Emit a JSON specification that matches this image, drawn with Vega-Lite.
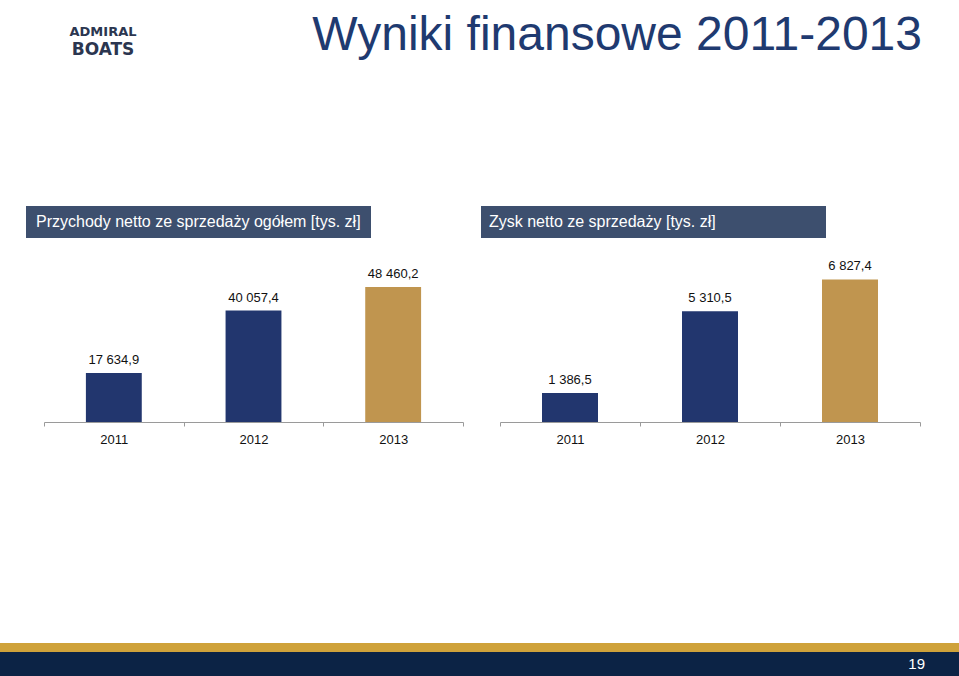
{
  "$schema": "https://vega.github.io/schema/vega-lite/v6.json",
  "padding": {"left": 0, "right": 0, "top": 12, "bottom": 0},
  "background": "white",
  "config": {
    "font": "Liberation Sans",
    "view": {"stroke": null},
    "locale": {"number": {"decimal": ",", "thousands": " ", "grouping": [3], "currency": ["", " zł"]}}
  },
  "datasets": {
    "revenue": [{"year": 2011, "value": 17634.9}, {"year": 2012, "value": 40057.4}, {"year": 2013, "value": 48460.2}],
    "profit": [{"year": 2011, "value": 1386.5}, {"year": 2012, "value": 5310.5}, {"year": 2013, "value": 6827.4}],
    "headers": [{"panel": "revenue", "label": "Przychody netto ze sprzedaży ogółem [tys. zł]"}, {"panel": "profit", "label": "Zysk netto ze sprzedaży [tys. zł]"}],
    "footer": [{"page": "19"}],
    "empty": []
  },
  "spacing": 0,
  "vconcat": [
    {
      "spacing": 0,
      "hconcat": [
        {"width": 206, "height": 146, "data": {"name": "empty"}, "mark": "point",
         "title": {"text": "ADMIRAL", "subtitle": "BOATS", "orient": "top", "anchor": "middle", "offset": 2, "font": "DejaVu Sans", "fontSize": 13, "fontWeight": "bold", "color": "#2b3650", "subtitleFont": "DejaVu Sans", "subtitleFontSize": 17, "subtitleFontWeight": "bold", "subtitleColor": "#2b3650", "subtitlePadding": 3}},
        {"width": 716, "height": 146, "data": {"name": "empty"}, "mark": "point",
         "title": {"text": "Wyniki finansowe 2011-2013", "anchor": "end", "offset": 0, "fontSize": 48, "fontWeight": "normal", "color": "#1f3a70"}}
      ]
    },
    {
      "spacing": 17,
      "vconcat": [
        {
          "spacing": 0,
          "hconcat": [
            {"width": 26, "height": 1, "data": {"name": "empty"}, "mark": "point"},
            {
              "spacing": 110,
              "hconcat": [
                {"width": 345, "height": 32, "data": {"name": "headers"},
                 "transform": [{"filter": "datum.panel === 'revenue'"}],
                 "mark": {"type": "text", "align": "left", "dx": 10, "baseline": "middle", "fontSize": 16, "color": "white"},
                 "encoding": {"text": {"field": "label"}, "x": {"datum": 0, "type": "quantitative", "scale": {"domain": [0, 1]}, "axis": null}},
                 "view": {"fill": "#3d4f6e", "stroke": null}},
                {"width": 345, "height": 32, "data": {"name": "headers"},
                 "transform": [{"filter": "datum.panel === 'profit'"}],
                 "mark": {"type": "text", "align": "left", "dx": 8, "baseline": "middle", "fontSize": 16, "color": "white"},
                 "encoding": {"text": {"field": "label"}, "x": {"datum": 0, "type": "quantitative", "scale": {"domain": [0, 1]}, "axis": null}},
                 "view": {"fill": "#3d4f6e", "stroke": null}}
              ],
              "resolve": {"scale": {"x": "independent"}}
            }
          ]
        },
        {
          "spacing": 0,
          "hconcat": [
            {"width": 43, "height": 1, "data": {"name": "empty"}, "mark": "point"},
            {
              "spacing": 35,
              "resolve": {"scale": {"x": "independent", "y": "independent", "color": "independent"}},
              "hconcat": [
                {
                  "width": 419, "height": 167,
                  "data": {"name": "revenue"},
                  "encoding": {
                    "x": {"field": "year", "type": "ordinal", "scale": {"paddingInner": 0, "paddingOuter": 0},
                          "axis": {"title": null, "labelAngle": 0, "tickBand": "extent", "domainColor": "#9a9a9a", "tickColor": "#9a9a9a", "tickSize": 4, "labelFontSize": 13, "labelColor": "#111111", "labelPadding": 7, "grid": false}},
                    "y": {"field": "value", "type": "quantitative", "scale": {"domain": [0, 60000]}, "axis": null}
                  },
                  "layer": [
                    {"mark": {"type": "bar", "width": {"band": 0.4}},
                     "encoding": {"color": {"field": "year", "type": "nominal", "scale": {"range": ["#22366e", "#22366e", "#c0954f"]}, "legend": null}}},
                    {"mark": {"type": "text", "baseline": "alphabetic", "dy": -9, "fontSize": 13, "color": "#111111"},
                     "encoding": {"text": {"field": "value", "type": "quantitative", "format": ",.1f"}}}
                  ]
                },
                {
                  "width": 420, "height": 167,
                  "data": {"name": "profit"},
                  "encoding": {
                    "x": {"field": "year", "type": "ordinal", "scale": {"paddingInner": 0, "paddingOuter": 0},
                          "axis": {"title": null, "labelAngle": 0, "tickBand": "extent", "domainColor": "#9a9a9a", "tickColor": "#9a9a9a", "tickSize": 4, "labelFontSize": 13, "labelColor": "#111111", "labelPadding": 7, "grid": false}},
                    "y": {"field": "value", "type": "quantitative", "scale": {"domain": [0, 8000]}, "axis": null}
                  },
                  "layer": [
                    {"mark": {"type": "bar", "width": {"band": 0.4}},
                     "encoding": {"color": {"field": "year", "type": "nominal", "scale": {"range": ["#22366e", "#22366e", "#c0954f"]}, "legend": null}}},
                    {"mark": {"type": "text", "baseline": "alphabetic", "dy": -9, "fontSize": 13, "color": "#111111"},
                     "encoding": {"text": {"field": "value", "type": "quantitative", "format": ",.1f"}}}
                  ]
                }
              ]
            }
          ]
        }
      ]
    },
    {"width": 959, "height": 197, "data": {"name": "empty"}, "mark": "point"},
    {"width": 959, "height": 9, "data": {"name": "empty"}, "mark": "point", "view": {"fill": "#cfa23a", "stroke": null}},
    {"width": 959, "height": 24, "data": {"name": "footer"},
     "mark": {"type": "text", "align": "right", "dx": -34, "fontSize": 15, "color": "white", "baseline": "middle"},
     "encoding": {"text": {"field": "page"}, "x": {"datum": 1, "type": "quantitative", "scale": {"domain": [0, 1]}, "axis": null}},
     "view": {"fill": "#0c2345", "stroke": null}}
  ]
}
